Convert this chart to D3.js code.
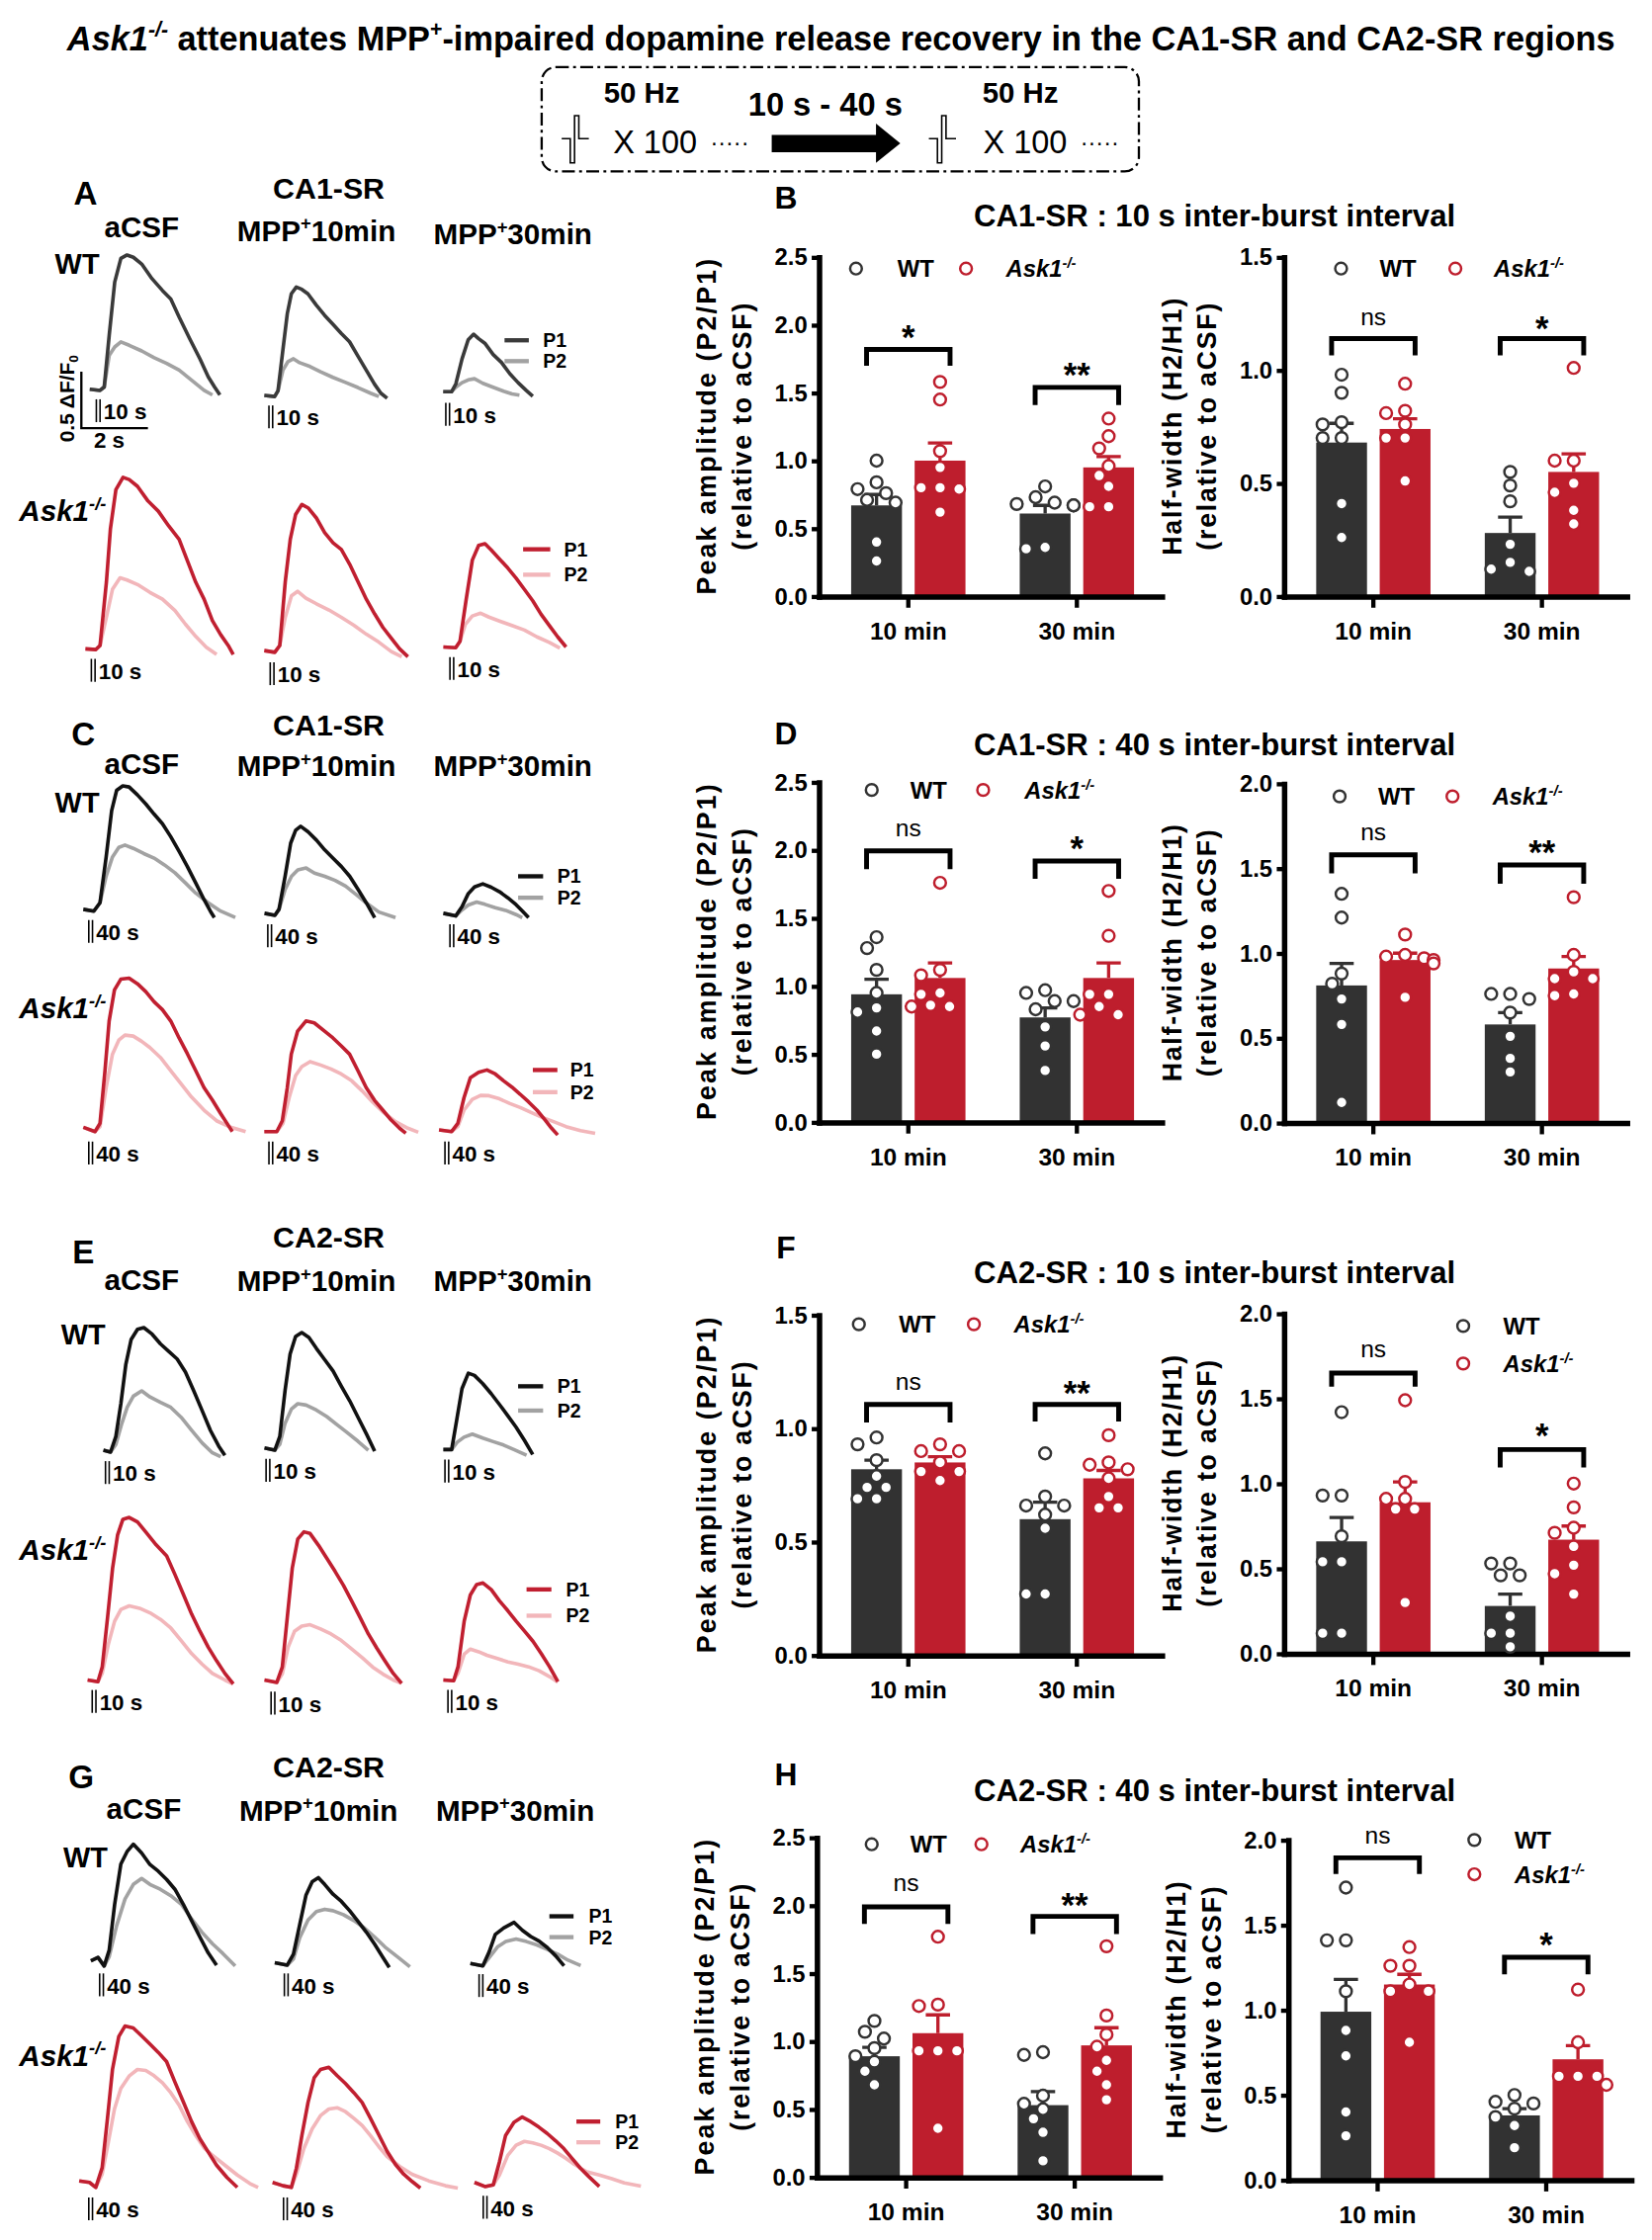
<!DOCTYPE html>
<html>
<head>
<meta charset="utf-8">
<title>Ask1 dopamine release recovery</title>
<script src="https://cdn.jsdelivr.net/npm/d3@7"></script>
<style>
  body { margin: 0; background: #fff; }
  text { font-family: "Liberation Sans", Arial, Helvetica, sans-serif; }
</style>
</head>
<body>
<div id="fig"></div>
<script>
// traces: [seconds from stimulus onset, dF/F0]  (P1 = first burst, P2 = second burst)
var A_wt_acsf_p1 = [[-0.31,0],[0,-0.01],[0.125,0.02],[0.275,0.48],[0.44,0.95],[0.625,1.16],[0.81,1.19],[1.0,1.17],[1.25,1.11],[1.56,0.98],[1.875,0.875],[2.125,0.80],[2.375,0.64],[2.69,0.45],[3.0,0.27],[3.25,0.11],[3.44,0.02],[3.6,-0.05]];
var A_wt_acsf_p2 = [[-0.31,0],[0,-0.01],[0.125,0.02],[0.275,0.30],[0.44,0.375],[0.625,0.42],[0.875,0.39],[1.25,0.34],[1.625,0.28],[2.0,0.23],[2.375,0.17],[2.75,0.08],[3.125,-0.01],[3.375,-0.05]];
var A_wt_10_p1 = [[-0.25,0],[0.06,-0.01],[0.16,0.04],[0.31,0.41],[0.44,0.725],[0.56,0.90],[0.71,0.96],[0.875,0.94],[1.06,0.90],[1.31,0.80],[1.56,0.71],[1.81,0.63],[2.06,0.55],[2.31,0.475],[2.56,0.35],[2.81,0.225],[3.06,0.10],[3.25,0.02],[3.44,-0.025]];
var A_wt_10_p2 = [[-0.25,0],[0.06,-0.01],[0.16,0.04],[0.31,0.225],[0.46,0.30],[0.625,0.325],[0.81,0.29],[1.125,0.256],[1.44,0.21],[1.81,0.16],[2.19,0.115],[2.56,0.07],[2.94,0.02],[3.19,-0.01]];
var A_wt_30_p1 = [[-0.19,0.01],[0.06,0.01],[0.19,0.08],[0.375,0.30],[0.56,0.47],[0.725,0.52],[0.875,0.48],[1.06,0.44],[1.31,0.34],[1.56,0.27],[1.81,0.17],[2.06,0.09],[2.31,0.02],[2.5,-0.03]];
var A_wt_30_p2 = [[-0.19,0.01],[0.06,0.01],[0.19,0.05],[0.375,0.09],[0.56,0.115],[0.75,0.125],[1.0,0.085],[1.31,0.05],[1.625,0.015],[1.875,-0.01],[2.1,-0.02]];
var A_ko_acsf_p1 = [[-0.29,0],[0.025,-0.006],[0.15,0.03],[0.34,0.59],[0.46,1.06],[0.625,1.41],[0.84,1.52],[1.025,1.50],[1.275,1.44],[1.59,1.31],[1.9,1.22],[2.21,1.09],[2.525,0.97],[2.775,0.78],[3.025,0.59],[3.275,0.44],[3.525,0.25],[3.775,0.125],[4.0,0.03],[4.15,-0.05]];
var A_ko_acsf_p2 = [[-0.29,0],[0.025,-0.006],[0.15,0.03],[0.34,0.28],[0.525,0.53],[0.75,0.63],[0.96,0.61],[1.275,0.57],[1.65,0.50],[2.025,0.44],[2.4,0.34],[2.71,0.22],[3.025,0.11],[3.34,0.015],[3.65,-0.05]];
var A_ko_10_p1 = [[-0.29,0.015],[0.025,0],[0.175,0.06],[0.34,0.625],[0.49,1.0],[0.65,1.22],[0.84,1.31],[1.025,1.28],[1.275,1.19],[1.525,1.06],[1.775,0.97],[2.025,0.91],[2.275,0.78],[2.525,0.625],[2.775,0.47],[3.025,0.34],[3.275,0.22],[3.525,0.125],[3.775,0.03],[4.025,-0.04]];
var A_ko_10_p2 = [[-0.29,0.015],[0.025,0],[0.175,0.06],[0.34,0.31],[0.525,0.5],[0.71,0.54],[0.96,0.48],[1.275,0.43],[1.65,0.375],[2.025,0.31],[2.4,0.24],[2.775,0.16],[3.15,0.09],[3.525,0.006],[3.84,-0.04]];
var A_ko_30_p1 = [[-0.31,0],[0.06,-0.006],[0.19,0.05],[0.375,0.42],[0.56,0.77],[0.75,0.90],[0.94,0.915],[1.125,0.86],[1.375,0.78],[1.625,0.70],[1.875,0.61],[2.125,0.51],[2.375,0.41],[2.625,0.29],[2.875,0.19],[3.125,0.09],[3.375,0]];
var A_ko_30_p2 = [[-0.31,0],[0.06,-0.006],[0.19,0.05],[0.35,0.20],[0.56,0.275],[0.81,0.30],[1.06,0.265],[1.375,0.23],[1.75,0.19],[2.125,0.15],[2.5,0.09],[2.875,0.04],[3.19,-0.01]];

var C_wt_acsf_p1 = [[-0.275,0.006],[0.04,-0.01],[0.225,0.064],[0.41,0.47],[0.575,0.88],[0.725,1.06],[0.91,1.10],[1.1,1.09],[1.35,1.02],[1.6,0.94],[1.85,0.85],[2.1,0.765],[2.35,0.65],[2.6,0.52],[2.85,0.385],[3.1,0.24],[3.35,0.093],[3.54,-0.01],[3.66,-0.067]];
var C_wt_acsf_p2 = [[-0.275,0.006],[0.04,-0.01],[0.225,0.064],[0.41,0.30],[0.6,0.47],[0.79,0.555],[0.975,0.575],[1.225,0.546],[1.54,0.50],[1.85,0.46],[2.16,0.40],[2.475,0.33],[2.79,0.24],[3.1,0.15],[3.475,0.064],[3.85,-0.01],[4.29,-0.067]];
var C_wt_10_p1 = [[-0.21,0.009],[0.1,-0.009],[0.225,0.044],[0.41,0.34],[0.575,0.63],[0.725,0.744],[0.875,0.78],[1.1,0.73],[1.35,0.657],[1.6,0.57],[1.85,0.496],[2.1,0.423],[2.35,0.336],[2.6,0.22],[2.85,0.10],[3.1,-0.03]];
var C_wt_10_p2 = [[-0.21,0.009],[0.1,-0.009],[0.225,0.044],[0.41,0.22],[0.6,0.336],[0.79,0.394],[1.04,0.41],[1.29,0.365],[1.6,0.336],[1.91,0.30],[2.225,0.25],[2.54,0.175],[2.85,0.10],[3.225,0.02],[3.725,-0.03]];
var C_wt_30_p1 = [[-0.31,0.009],[0.06,-0.015],[0.25,0.067],[0.44,0.184],[0.625,0.242],[0.875,0.27],[1.125,0.24],[1.375,0.20],[1.625,0.146],[1.875,0.085],[2.06,0.03],[2.25,-0.03]];
var C_wt_30_p2 = [[-0.31,0.009],[0.06,-0.015],[0.25,0.038],[0.44,0.082],[0.69,0.108],[0.94,0.088],[1.25,0.058],[1.56,0.035],[1.875,-0.003],[2.06,-0.03]];
var C_ko_acsf_p1 = [[-0.275,0.038],[0.075,0],[0.225,0.073],[0.375,0.54],[0.5,0.98],[0.66,1.255],[0.85,1.35],[1.1,1.36],[1.35,1.31],[1.6,1.24],[1.85,1.15],[2.1,1.08],[2.35,0.98],[2.6,0.83],[2.85,0.69],[3.1,0.54],[3.35,0.39],[3.6,0.28],[3.85,0.16],[4.04,0.073],[4.2,0]];
var C_ko_acsf_p2 = [[-0.275,0.038],[0.075,0],[0.225,0.044],[0.41,0.39],[0.6,0.686],[0.79,0.81],[0.975,0.855],[1.225,0.846],[1.475,0.80],[1.725,0.744],[2.04,0.657],[2.35,0.54],[2.66,0.423],[2.975,0.306],[3.35,0.19],[3.725,0.096],[4.1,0.044],[4.6,0]];
var C_ko_10_p1 = [[-0.25,0],[0.125,0],[0.29,0.096],[0.44,0.39],[0.56,0.686],[0.75,0.89],[1.0,0.98],[1.25,0.963],[1.56,0.89],[1.81,0.83],[2.06,0.76],[2.31,0.686],[2.56,0.54],[2.81,0.39],[3.06,0.277],[3.31,0.19],[3.56,0.102],[3.81,0.03],[4.0,-0.015]];
var C_ko_10_p2 = [[-0.25,0],[0.125,0],[0.31,0.073],[0.5,0.306],[0.69,0.496],[0.875,0.575],[1.125,0.62],[1.44,0.59],[1.75,0.555],[2.06,0.51],[2.375,0.45],[2.69,0.36],[3.0,0.263],[3.31,0.175],[3.69,0.088],[4.06,0.03],[4.375,-0.006]];
var C_ko_30_p1 = [[-0.29,0.015],[0.09,0],[0.275,0.073],[0.46,0.30],[0.65,0.476],[0.9,0.525],[1.15,0.546],[1.4,0.51],[1.65,0.45],[1.9,0.394],[2.15,0.33],[2.4,0.263],[2.65,0.19],[2.9,0.102],[3.09,0.03],[3.275,-0.03]];
var C_ko_30_p2 = [[-0.29,0.015],[0.09,0],[0.275,0.044],[0.46,0.19],[0.71,0.286],[0.96,0.32],[1.21,0.318],[1.525,0.29],[1.84,0.248],[2.15,0.213],[2.46,0.172],[2.775,0.13],[3.15,0.088],[3.525,0.044],[3.96,0.009],[4.4,-0.015]];

var E_wt_acsf_p1 = [[-0.175,0.009],[0.04,-0.009],[0.2,0.13],[0.35,0.42],[0.5,0.77],[0.66,0.99],[0.85,1.08],[1.04,1.095],[1.29,1.036],[1.54,0.95],[1.79,0.884],[2.04,0.817],[2.29,0.70],[2.54,0.534],[2.79,0.36],[3.04,0.184],[3.29,0.044],[3.475,-0.038]];
var E_wt_acsf_p2 = [[-0.175,0.009],[0.04,-0.009],[0.2,0.06],[0.375,0.242],[0.54,0.388],[0.725,0.487],[0.975,0.534],[1.225,0.48],[1.54,0.432],[1.85,0.388],[2.16,0.30],[2.475,0.184],[2.79,0.073],[3.1,-0.015],[3.35,-0.05]];
var E_wt_10_p1 = [[-0.16,0.009],[0.15,-0.012],[0.3,0.11],[0.46,0.52],[0.61,0.84],[0.775,0.995],[0.96,1.03],[1.175,0.987],[1.4,0.89],[1.65,0.79],[1.9,0.69],[2.15,0.555],[2.4,0.426],[2.65,0.28],[2.9,0.134],[3.15,-0.02]];
var E_wt_10_p2 = [[-0.16,0.009],[0.15,-0.012],[0.3,0.04],[0.46,0.228],[0.65,0.353],[0.84,0.40],[1.09,0.388],[1.4,0.344],[1.71,0.286],[2.025,0.213],[2.34,0.14],[2.65,0.067],[2.96,-0.012]];
var E_wt_30_p1 = [[-0.16,0],[0.09,0],[0.25,0.277],[0.4,0.54],[0.59,0.677],[0.775,0.657],[1.025,0.584],[1.275,0.496],[1.525,0.40],[1.775,0.30],[2.025,0.198],[2.275,0.082],[2.525,-0.044]];
var E_wt_30_p2 = [[-0.16,0],[0.09,0],[0.25,0.064],[0.46,0.11],[0.71,0.137],[1.025,0.102],[1.34,0.07],[1.65,0.04],[1.96,0],[2.34,-0.05]];
var E_ko_acsf_p1 = [[-0.25,0],[0.06,-0.015],[0.19,0.117],[0.35,0.555],[0.5,0.99],[0.65,1.284],[0.81,1.424],[1.0,1.44],[1.25,1.40],[1.5,1.31],[1.81,1.197],[2.125,1.10],[2.375,0.934],[2.625,0.76],[2.875,0.584],[3.125,0.432],[3.375,0.29],[3.625,0.17],[3.875,0.058],[4.125,-0.035]];
var E_ko_acsf_p2 = [[-0.25,0],[0.06,-0.015],[0.19,0.06],[0.375,0.32],[0.56,0.52],[0.75,0.625],[1.0,0.657],[1.31,0.636],[1.625,0.595],[1.94,0.537],[2.25,0.46],[2.56,0.35],[2.875,0.234],[3.19,0.14],[3.5,0.058],[3.875,0],[4.125,-0.035]];
var E_ko_10_p1 = [[-0.31,0.015],[0.06,-0.006],[0.225,0.13],[0.375,0.57],[0.525,1.007],[0.69,1.264],[0.875,1.328],[1.06,1.313],[1.31,1.21],[1.56,1.095],[1.81,0.978],[2.06,0.855],[2.31,0.715],[2.56,0.57],[2.81,0.423],[3.06,0.30],[3.31,0.184],[3.56,0.073],[3.81,-0.015]];
var E_ko_10_p2 = [[-0.31,0.015],[0.06,-0.006],[0.225,0.07],[0.4,0.306],[0.59,0.446],[0.81,0.493],[1.06,0.505],[1.375,0.467],[1.69,0.423],[2.0,0.365],[2.31,0.29],[2.625,0.213],[2.94,0.13],[3.25,0.067],[3.56,0.015],[3.81,-0.015]];
var E_ko_30_p1 = [[-0.25,0],[0.06,-0.006],[0.19,0.117],[0.375,0.52],[0.56,0.753],[0.75,0.846],[0.94,0.86],[1.19,0.80],[1.44,0.70],[1.69,0.613],[1.94,0.52],[2.19,0.432],[2.44,0.344],[2.69,0.234],[2.94,0.117],[3.19,-0.015]];
var E_ko_30_p2 = [[-0.25,0],[0.06,-0.006],[0.19,0.06],[0.375,0.228],[0.56,0.274],[0.81,0.25],[1.06,0.219],[1.375,0.19],[1.69,0.16],[2.0,0.14],[2.31,0.117],[2.625,0.082],[2.94,0.03],[3.19,-0.02]];

var G_wt_acsf_p1 = [[-0.375,0.023],[-0.16,0.053],[0.025,-0.023],[0.175,0.117],[0.34,0.525],[0.525,0.88],[0.71,0.99],[0.9,1.057],[1.15,0.978],[1.4,0.876],[1.65,0.817],[1.9,0.744],[2.15,0.657],[2.4,0.525],[2.65,0.38],[2.9,0.234],[3.15,0.093],[3.4,-0.015]];
var G_wt_acsf_p2 = [[-0.375,0.023],[-0.16,0.053],[0.025,-0.023],[0.175,0.06],[0.4,0.336],[0.65,0.57],[0.9,0.70],[1.15,0.753],[1.4,0.70],[1.71,0.657],[2.025,0.60],[2.34,0.525],[2.65,0.394],[2.96,0.277],[3.275,0.175],[3.59,0.088],[3.96,-0.023]];
var G_wt_10_p1 = [[-0.4,0.006],[-0.025,-0.015],[0.16,0.082],[0.35,0.344],[0.54,0.607],[0.725,0.724],[0.91,0.76],[1.1,0.70],[1.35,0.613],[1.6,0.55],[1.85,0.467],[2.1,0.374],[2.35,0.277],[2.6,0.17],[2.85,0.053],[3.04,-0.035]];
var G_wt_10_p2 = [[-0.4,0.006],[-0.025,-0.015],[0.16,0.04],[0.35,0.228],[0.6,0.385],[0.85,0.46],[1.1,0.48],[1.35,0.467],[1.66,0.432],[1.975,0.38],[2.29,0.315],[2.6,0.234],[2.91,0.146],[3.29,0.058],[3.66,-0.03]];
var G_wt_30_p1 = [[-0.375,0.006],[0,-0.015],[0.19,0.108],[0.375,0.263],[0.625,0.32],[0.94,0.37],[1.19,0.30],[1.44,0.245],[1.69,0.204],[1.94,0.146],[2.19,0.073],[2.44,-0.015]];
var G_wt_30_p2 = [[-0.375,0.006],[0,-0.015],[0.19,0.058],[0.44,0.152],[0.69,0.2],[1.0,0.222],[1.31,0.2],[1.625,0.17],[1.94,0.13],[2.25,0.088],[2.56,0.035],[2.94,-0.012]];
var G_ko_acsf_p1 = [[-0.4,0.058],[-0.09,0.044],[0.1,0],[0.29,0.175],[0.45,0.613],[0.6,1.045],[0.79,1.337],[0.975,1.43],[1.225,1.413],[1.475,1.343],[1.725,1.27],[1.975,1.197],[2.225,1.115],[2.475,0.934],[2.725,0.76],[2.975,0.584],[3.225,0.432],[3.475,0.315],[3.725,0.198],[4.04,0.088],[4.35,0]];
var G_ko_acsf_p2 = [[-0.4,0.058],[-0.09,0.044],[0.1,0],[0.29,0.117],[0.475,0.40],[0.66,0.695],[0.85,0.876],[1.1,0.987],[1.35,1.045],[1.6,1.036],[1.85,0.99],[2.1,0.928],[2.35,0.84],[2.6,0.73],[2.85,0.584],[3.1,0.46],[3.35,0.35],[3.6,0.286],[3.975,0.198],[4.35,0.11],[4.725,0.035],[4.975,0]];
var G_ko_10_p1 = [[-0.44,0.044],[-0.125,0.015],[0.125,0],[0.275,0.17],[0.44,0.46],[0.625,0.753],[0.81,0.972],[1.0,1.045],[1.25,1.065],[1.5,0.99],[1.75,0.92],[2.0,0.84],[2.25,0.753],[2.5,0.613],[2.75,0.467],[3.0,0.32],[3.25,0.204],[3.5,0.117],[3.75,0.053],[4.0,-0.006]];
var G_ko_10_p2 = [[-0.44,0.044],[-0.125,0.015],[0.125,0],[0.275,0.117],[0.5,0.344],[0.75,0.52],[1.0,0.636],[1.25,0.695],[1.5,0.706],[1.75,0.671],[2.0,0.613],[2.25,0.55],[2.5,0.46],[2.75,0.362],[3.0,0.274],[3.375,0.187],[3.75,0.117],[4.25,0.058],[4.75,0.015],[5.125,-0.006]];
var G_ko_30_p1 = [[-0.375,0.03],[-0.06,-0.006],[0.19,0.009],[0.375,0.213],[0.56,0.447],[0.81,0.563],[1.06,0.61],[1.31,0.57],[1.56,0.52],[1.81,0.464],[2.06,0.40],[2.31,0.33],[2.56,0.242],[2.81,0.155],[3.06,0.082],[3.375,-0.006]];
var G_ko_30_p2 = [[-0.375,0.03],[-0.06,-0.006],[0.19,0.009],[0.375,0.096],[0.625,0.27],[0.875,0.36],[1.125,0.394],[1.375,0.38],[1.625,0.36],[1.875,0.33],[2.125,0.29],[2.375,0.242],[2.625,0.19],[3.0,0.125],[3.375,0.096],[3.75,0.064],[4.125,0.026],[4.625,-0.003]];

// bar charts: individual slices, order of means/sems = [WT 10, Ask1 10, WT 30, Ask1 30]
var groups = ["10 min", "30 min"];
var genos = ["WT", "Ask1"];
var ticks15 = [0, 0.5, 1, 1.5];
var ticks20 = [0, 0.5, 1, 1.5, 2];
var ticks25 = [0, 0.5, 1, 1.5, 2, 2.5];

var B_peak_wt10 = [1.0, 0.84, 0.79, 0.76, 0.71, 0.69, 0.40, 0.26];
var B_peak_ko10 = [1.58, 1.45, 1.07, 0.95, 0.80, 0.80, 0.79, 0.62];
var B_peak_wt30 = [0.81, 0.73, 0.69, 0.68, 0.67, 0.67, 0.36, 0.35];
var B_peak_ko30 = [1.31, 1.18, 1.09, 0.96, 0.89, 0.81, 0.66, 0.66];
var B_peak_mean = [0.67, 1.0, 0.61, 0.95];
var B_peak_sem = [0.08, 0.13, 0.06, 0.08];
var B_half_wt10 = [0.98, 0.90, 0.77, 0.76, 0.70, 0.70, 0.41, 0.26];
var B_half_ko10 = [0.94, 0.82, 0.81, 0.76, 0.70, 0.70, 0.51];
var B_half_wt30 = [0.55, 0.49, 0.42, 0.23, 0.15, 0.12, 0.11];
var B_half_ko30 = [1.01, 0.60, 0.60, 0.50, 0.46, 0.38, 0.32];
var B_half_mean = [0.68, 0.74, 0.28, 0.55];
var B_half_sem = [0.085, 0.045, 0.07, 0.08];

var D_peak_wt10 = [1.36, 1.28, 1.12, 0.95, 0.84, 0.81, 0.67, 0.50];
var D_peak_ko10 = [1.76, 1.12, 1.08, 0.95, 0.94, 0.86, 0.85, 0.85];
var D_peak_wt30 = [0.97, 0.95, 0.89, 0.89, 0.83, 0.70, 0.56, 0.38];
var D_peak_ko30 = [1.70, 1.37, 0.94, 0.94, 0.85, 0.79, 0.79];
var D_peak_mean = [0.94, 1.06, 0.77, 1.06];
var D_peak_sem = [0.11, 0.11, 0.07, 0.11];
var D_half_wt10 = [1.35, 1.21, 0.88, 0.82, 0.73, 0.58, 0.12];
var D_half_ko10 = [1.11, 0.99, 0.98, 0.97, 0.96, 0.94, 0.74];
var D_half_wt30 = [0.76, 0.76, 0.73, 0.65, 0.51, 0.38, 0.30];
var D_half_ko30 = [1.33, 0.99, 0.89, 0.85, 0.85, 0.76, 0.75];
var D_half_mean = [0.81, 0.96, 0.58, 0.91];
var D_half_sem = [0.13, 0.04, 0.07, 0.07];

var F_peak_wt10 = [0.96, 0.93, 0.86, 0.79, 0.74, 0.74, 0.69, 0.69];
var F_peak_ko10 = [0.93, 0.90, 0.90, 0.85, 0.81, 0.81, 0.77];
var F_peak_wt30 = [0.89, 0.70, 0.66, 0.66, 0.62, 0.56, 0.27, 0.27];
var F_peak_ko30 = [0.97, 0.85, 0.84, 0.82, 0.78, 0.70, 0.65, 0.65];
var F_peak_mean = [0.82, 0.85, 0.60, 0.78];
var F_peak_sem = [0.04, 0.025, 0.075, 0.035];
var F_half_wt10 = [1.42, 0.93, 0.93, 0.69, 0.54, 0.54, 0.12, 0.12];
var F_half_ko10 = [1.49, 1.01, 0.91, 0.91, 0.85, 0.85, 0.30];
var F_half_wt30 = [0.53, 0.53, 0.46, 0.46, 0.22, 0.12, 0.12, 0.04];
var F_half_ko30 = [1.00, 0.86, 0.74, 0.71, 0.63, 0.52, 0.47, 0.35];
var F_half_mean = [0.66, 0.89, 0.28, 0.67];
var F_half_sem = [0.14, 0.12, 0.07, 0.08];

var H_peak_wt10 = [1.15, 1.07, 1.02, 0.95, 0.89, 0.85, 0.78, 0.68];
var H_peak_ko10 = [1.77, 1.27, 1.26, 0.93, 0.93, 0.93, 0.36];
var H_peak_wt30 = [0.92, 0.90, 0.60, 0.54, 0.50, 0.43, 0.33, 0.12];
var H_peak_ko30 = [1.70, 1.19, 1.05, 0.96, 0.86, 0.78, 0.68, 0.57];
var H_peak_mean = [0.89, 1.06, 0.53, 0.97];
var H_peak_sem = [0.065, 0.135, 0.10, 0.13];
var H_half_wt10 = [1.72, 1.41, 1.41, 1.11, 0.88, 0.73, 0.40, 0.26];
var H_half_ko10 = [1.37, 1.26, 1.26, 1.15, 1.11, 1.11, 0.81];
var H_half_wt30 = [0.50, 0.46, 0.45, 0.42, 0.37, 0.32, 0.19];
var H_half_ko30 = [1.12, 0.81, 0.61, 0.61, 0.61, 0.56];
var H_half_mean = [0.99, 1.15, 0.38, 0.71];
var H_half_sem = [0.19, 0.06, 0.04, 0.08];

// significance: [bracket level, leg end, label, label centre] per time point
var B_peak_sig = [[1.82, 1.70, "*", 1.97], [1.54, 1.41, "**", 1.69]];
var B_half_sig = [[1.14, 1.066, "ns", 1.23], [1.14, 1.066, "*", 1.22]];
var D_peak_sig = [[1.995, 1.86, "ns", 2.15], [1.92, 1.79, "*", 2.07]];
var D_half_sig = [[1.58, 1.47, "ns", 1.705], [1.52, 1.41, "**", 1.64]];
var F_peak_sig = [[1.106, 1.026, "ns", 1.20], [1.106, 1.03, "**", 1.19]];
var F_half_sig = [[1.65, 1.57, "ns", 1.78], [1.20, 1.095, "*", 1.33]];
var H_peak_sig = [[1.99, 1.865, "ns", 2.155], [1.92, 1.79, "**", 2.06]];
var H_half_sig = [[1.895, 1.80, "ns", 2.02], [1.31, 1.21, "*", 1.43]];

var WT_BAR = "#323232", KO_BAR = "#be1e2d";
var WT_P2 = "#a2a2a2", KO_P1 = "#c01f30", KO_P2 = "#f2b6ba";
var SEC = 23.3, UNIT = 79;   // px per second, px per 1.0 dF/F0

function rich(g, x, y, parts, size, opts) {
    opts = opts || {};
    var t = g.append("text")
        .attr("x", x).attr("y", y)
        .attr("font-size", size)
        .attr("font-weight", opts.weight || "bold")
        .attr("text-anchor", opts.anchor || "middle")
        .attr("fill", "#000");
    if (opts.transform) t.attr("transform", opts.transform);
    parts.forEach(function(p) {
        var s = t.append("tspan").text(p.t);
        if (p.i) s.attr("font-style", "italic");
        if (p.sup) s.attr("font-size", "0.62em").attr("dy", "-0.62em");
        if (p.sub) s.attr("font-size", "0.65em").attr("dy", "0.3em");
        if (p.back) s.attr("dy", p.back);
    });
    return t;
}

function fitWidth(t, w) {
    var len = t.node().getComputedTextLength();
    var fs = parseFloat(t.attr("font-size"));
    t.attr("font-size", fs * w / len);
}

var askParts = [{t: "Ask1", i: true}, {t: "-/-", i: true, sup: true}];

function init() {
    var svg = d3.select("#fig").append("svg")
        .attr("width", 1671).attr("height", 2266)
        .attr("viewBox", "0 0 1156 1568");
    svg.append("rect").attr("width", 1156).attr("height", 1568).attr("fill", "#fff");

    // title
    var title = rich(svg, 588.5, 35, [
        {t: "Ask1", i: true}, {t: "-/-", i: true, sup: true},
        {t: " attenuates MPP", back: "0.384em"}, {t: "+", sup: true},
        {t: "-impaired dopamine release recovery in the CA1-SR and CA2-SR regions", back: "0.384em"}
    ], 21);
    fitWidth(title, 1083);

    // protocol box
    var hd = svg.append("g");
    hd.append("rect").attr("x", 379).attr("y", 47).attr("width", 418).attr("height", 73).attr("rx", 10)
        .attr("fill", "none").attr("stroke", "#000").attr("stroke-width", 1.6).attr("stroke-dasharray", "9,3,2,3");
    [449, 714].forEach(function(x) {
        var t = hd.append("text").attr("x", x).attr("y", 72).attr("text-anchor", "middle")
            .attr("font-size", 18).attr("font-weight", "bold").text("50 Hz");
        fitWidth(t, 53);
    });
    var gapT = hd.append("text").attr("x", 577.5).attr("y", 81).attr("text-anchor", "middle")
        .attr("font-size", 20).attr("font-weight", "bold").text("10 s - 40 s");
    fitWidth(gapT, 108);
    [[393, 429], [650, 688]].forEach(function(p) {
        var x = p[0];
        hd.append("path")
            .attr("d", "M" + x + ",97 H" + (x + 6) + " V114 H" + (x + 9) + " V81 H" + (x + 12) + " V97 H" + (x + 19))
            .attr("fill", "none").attr("stroke", "#000").attr("stroke-width", 1.1);
        var t = hd.append("text").attr("x", p[1]).attr("y", 107).attr("font-size", 22).text("X 100");
        fitWidth(t, 58.7);
        var d = hd.append("text").attr("x", p[1] + 68).attr("y", 105).attr("font-size", 18).text("\u00b7\u00b7\u00b7\u00b7\u00b7");
        fitWidth(d, 27);
    });
    hd.append("path").attr("d", "M540,94.5 H613 V86.5 L630,100.3 L613,114 V106.5 H540 Z").attr("fill", "#000");

    // ---- trace panels ----
    var tracePanels = [
        {letter: "A", region: "CA1-SR", gap: "10 s", wtColor: "#3a3a3a",
         wt: [[A_wt_acsf_p1, A_wt_acsf_p2], [A_wt_10_p1, A_wt_10_p2], [A_wt_30_p1, A_wt_30_p2]],
         ko: [[A_ko_acsf_p1, A_ko_acsf_p2], [A_ko_10_p1, A_ko_10_p2], [A_ko_30_p1, A_ko_30_p2]],
         wtCells: [[69.9, 272.5], [190.7, 276.8], [314.5, 275]],
         koCells: [[66.4, 454.2], [191.6, 456.6], [317.4, 452.9]],
         L: [59.7, 143], R: [230, 139], cols: [[99, 166], [221.3, 168.7], [358.8, 171]],
         wtLab: [53.9, 192], koLab: [43.7, 365],
         legWT: [353, 370, 238.2, 252.8, 380], legKO: [366, 385, 384.5, 402.3, 394.6]},
        {letter: "C", region: "CA1-SR", gap: "40 s", wtColor: "#111",
         wt: [[C_wt_acsf_p1, C_wt_acsf_p2], [C_wt_10_p1, C_wt_10_p2], [C_wt_30_p1, C_wt_30_p2]],
         ko: [[C_ko_acsf_p1, C_ko_acsf_p2], [C_ko_10_p1, C_ko_10_p2], [C_ko_30_p1, C_ko_30_p2]],
         wtCells: [[64.6, 637], [189.9, 640], [317.4, 640]],
         koCells: [[64.6, 792.1], [190.7, 792.1], [313.9, 792.1]],
         L: [58.2, 522], R: [230, 515], cols: [[99, 542], [221.3, 543.5], [358.8, 543.5]],
         wtLab: [53.9, 569], koLab: [43.7, 713],
         legWT: [362.5, 380, 613.4, 628.4, 390], legKO: [372.8, 390, 749, 764.5, 399]},
        {letter: "E", region: "CA2-SR", gap: "10 s", wtColor: "#111",
         wt: [[E_wt_acsf_p1, E_wt_acsf_p2], [E_wt_10_p1, E_wt_10_p2], [E_wt_30_p1, E_wt_30_p2]],
         ko: [[E_ko_acsf_p1, E_ko_acsf_p2], [E_ko_10_p1, E_ko_10_p2], [E_ko_30_p1, E_ko_30_p2]],
         wtCells: [[76.3, 1015.8], [188.7, 1014.2], [313.9, 1014.7]],
         koCells: [[67, 1176], [192.2, 1177.2], [316, 1176]],
         L: [58.2, 884], R: [230, 873], cols: [[99, 903], [221.3, 904], [358.8, 904]],
         wtLab: [58.2, 941], koLab: [43.7, 1092],
         legWT: [362.5, 380, 970.4, 987.4, 390], legKO: [368.4, 385.8, 1112.6, 1131, 396]},
        {letter: "G", region: "CA2-SR", gap: "40 s", wtColor: "#111",
         wt: [[G_wt_acsf_p1, G_wt_acsf_p2], [G_wt_10_p1, G_wt_10_p2], [G_wt_30_p1, G_wt_30_p2]],
         ko: [[G_ko_acsf_p1, G_ko_acsf_p2], [G_ko_10_p1, G_ko_10_p2], [G_ko_30_p1, G_ko_30_p2]],
         wtCells: [[72.2, 1374.4], [201.5, 1374.4], [337.8, 1374.9]],
         koCells: [[64.6, 1531.2], [200.9, 1531.2], [340.7, 1530.1]],
         L: [56.8, 1252], R: [230, 1244], cols: [[100.5, 1273], [222.8, 1274.5], [360.5, 1274.5]],
         wtLab: [59.7, 1307], koLab: [43.7, 1446],
         legWT: [384.4, 401.3, 1341.4, 1356, 412], legKO: [403.3, 420, 1485.1, 1499.6, 430.4]}
    ];

    tracePanels.forEach(function(p) {
        var g = svg.append("g");
        g.append("text").attr("x", p.L[0]).attr("y", p.L[1]).attr("text-anchor", "middle")
            .attr("font-size", 23).attr("font-weight", "bold").text(p.letter);
        g.append("text").attr("x", p.R[0]).attr("y", p.R[1]).attr("text-anchor", "middle")
            .attr("font-size", 21).attr("font-weight", "bold").text(p.region);
        g.append("text").attr("x", p.cols[0][0]).attr("y", p.cols[0][1]).attr("text-anchor", "middle")
            .attr("font-size", 20.5).attr("font-weight", "bold").text("aCSF");
        rich(g, p.cols[1][0], p.cols[1][1], [{t: "MPP"}, {t: "+", sup: true}, {t: "10min", back: "0.384em"}], 20.5);
        rich(g, p.cols[2][0], p.cols[2][1], [{t: "MPP"}, {t: "+", sup: true}, {t: "30min", back: "0.384em"}], 20.5);
        g.append("text").attr("x", p.wtLab[0]).attr("y", p.wtLab[1]).attr("text-anchor", "middle")
            .attr("font-size", 20).attr("font-weight", "bold").text("WT");
        rich(g, p.koLab[0], p.koLab[1], askParts, 20.5);

        p.wt.forEach(function(pair, i) { traceCell(g, p.wtCells[i], pair, p.wtColor, WT_P2, p.gap); });
        p.ko.forEach(function(pair, i) { traceCell(g, p.koCells[i], pair, KO_P1, KO_P2, p.gap); });

        pulseLegend(g, p.legWT, p.wtColor, WT_P2);
        pulseLegend(g, p.legKO, KO_P1, KO_P2);
    });

    // scale bar (panel A)
    var sx = d3.scaleLinear().domain([0, 1]).range([56.8, 56.8 + SEC]);
    var sy = d3.scaleLinear().domain([0, 1]).range([299.7, 299.7 - UNIT]);
    svg.append("path")
        .attr("d", "M" + sx(0) + "," + sy(0.5) + "V" + sy(0) + "H" + sx(2))
        .attr("fill", "none").attr("stroke", "#000").attr("stroke-width", 1.6);
    rich(svg, 0, 0, [{t: "0.5 \u0394F/F"}, {t: "0", sub: true}], 14.5,
        {transform: "translate(51.5,279) rotate(-90)"});
    svg.append("text").attr("x", 76.3).attr("y", 313.5).attr("text-anchor", "middle")
        .attr("font-size", 15.5).attr("font-weight", "bold").text("2 s");

    function traceCell(g, cell, pair, c1, c2, gap) {
        var x = d3.scaleLinear().domain([0, 1]).range([cell[0], cell[0] + SEC]);
        var y = d3.scaleLinear().domain([0, 1]).range([cell[1], cell[1] - UNIT]);
        var line = d3.line().x(function(d) { return x(d[0]); }).y(function(d) { return y(d[1]); });
        g.append("path").attr("d", line(pair[1])).attr("fill", "none").attr("stroke", c2)
            .attr("stroke-width", 2.5).attr("stroke-linejoin", "round");
        g.append("path").attr("d", line(pair[0])).attr("fill", "none").attr("stroke", c1)
            .attr("stroke-width", 2.5).attr("stroke-linejoin", "round");
        [-2.6, 0].forEach(function(o) {
            g.append("line").attr("x1", x(0) + o).attr("x2", x(0) + o)
                .attr("y1", y(0) + 7).attr("y2", y(0) + 23)
                .attr("stroke", "#000").attr("stroke-width", 1.1);
        });
        g.append("text").attr("x", x(0) + 2.5).attr("y", y(0) + 21)
            .attr("font-size", 15.5).attr("font-weight", "bold").text(gap);
    }

    function pulseLegend(g, L, c1, c2) {
        [[L[2], c1, "P1"], [L[3], c2, "P2"]].forEach(function(r) {
            g.append("line").attr("x1", L[0]).attr("x2", L[1]).attr("y1", r[0]).attr("y2", r[0])
                .attr("stroke", r[1]).attr("stroke-width", 3);
            g.append("text").attr("x", L[4]).attr("y", r[0] + 4.8)
                .attr("font-size", 13.5).attr("font-weight", "bold").text(r[2]);
        });
    }

    // ---- bar chart rows ----
    var rows = [
        {letter: "B", ly: 146, title: "CA1-SR : 10 s inter-burst interval", ty: 158.5},
        {letter: "D", ly: 521, title: "CA1-SR : 40 s inter-burst interval", ty: 528.5},
        {letter: "F", ly: 881, title: "CA2-SR : 10 s inter-burst interval", ty: 898.5},
        {letter: "H", ly: 1250, title: "CA2-SR : 40 s inter-burst interval", ty: 1261}
    ];
    rows.forEach(function(r) {
        svg.append("text").attr("x", 550).attr("y", r.ly).attr("text-anchor", "middle")
            .attr("font-size", 22).attr("font-weight", "bold").text(r.letter);
        var t = svg.append("text").attr("x", 850).attr("y", r.ty).attr("text-anchor", "middle")
            .attr("font-size", 20).attr("font-weight", "bold").text(r.title);
        fitWidth(t, 337);
    });

    var peakLab = ["Peak amplitude (P2/P1)", "(relative to aCSF)"];
    var halfLab = ["Half-width (H2/H1)", "(relative to aCSF)"];
    var charts = [
        {axisX: 573, top: 180, bottom: 417.4, max: 2.5, ticks: ticks25, lab: peakLab, labW: [235, 173],
         vals: [B_peak_wt10, B_peak_ko10, B_peak_wt30, B_peak_ko30], means: B_peak_mean, sems: B_peak_sem, sig: B_peak_sig,
         leg: {h: true, dy: 8, c: [26, 103], t: [55, 131]}},
        {axisX: 898.5, top: 180, bottom: 417.4, max: 1.5, ticks: ticks15, lab: halfLab, labW: [180, 173],
         vals: [B_half_wt10, B_half_ko10, B_half_wt30, B_half_ko30], means: B_half_mean, sems: B_half_sem, sig: B_half_sig,
         leg: {h: true, dy: 8, c: [40, 120], t: [67, 147]}},
        {axisX: 573, top: 547.5, bottom: 785.5, max: 2.5, ticks: ticks25, lab: peakLab, labW: [235, 173],
         vals: [D_peak_wt10, D_peak_ko10, D_peak_wt30, D_peak_ko30], means: D_peak_mean, sems: D_peak_sem, sig: D_peak_sig,
         leg: {h: true, dy: 5.5, c: [37, 115], t: [64, 144]}},
        {axisX: 898.5, top: 548.5, bottom: 786, max: 2.0, ticks: ticks20, lab: halfLab, labW: [180, 173],
         vals: [D_half_wt10, D_half_ko10, D_half_wt30, D_half_ko30], means: D_half_mean, sems: D_half_sem, sig: D_half_sig,
         leg: {h: true, dy: 9, c: [39, 118], t: [66, 146]}},
        {axisX: 573, top: 920.5, bottom: 1158.7, max: 1.5, ticks: ticks15, lab: peakLab, labW: [235, 173],
         vals: [F_peak_wt10, F_peak_ko10, F_peak_wt30, F_peak_ko30], means: F_peak_mean, sems: F_peak_sem, sig: F_peak_sig,
         leg: {h: true, dy: 6.5, c: [28, 108.5], t: [56, 136.5]}},
        {axisX: 898.5, top: 919.5, bottom: 1157.5, max: 2.0, ticks: ticks20, lab: halfLab, labW: [180, 173],
         vals: [F_half_wt10, F_half_ko10, F_half_wt30, F_half_ko30], means: F_half_mean, sems: F_half_sem, sig: F_half_sig,
         leg: {h: false, dy: [8.7, 35], c: 125.5, t: 153.5}},
        {axisX: 571.5, top: 1286.3, bottom: 1524, max: 2.5, ticks: ticks25, lab: peakLab, labW: [235, 173],
         vals: [H_peak_wt10, H_peak_ko10, H_peak_wt30, H_peak_ko30], means: H_peak_mean, sems: H_peak_sem, sig: H_peak_sig,
         leg: {h: true, dy: 4.7, c: [38.5, 115.3], t: [65.5, 142.5]}},
        {axisX: 901.5, top: 1288, bottom: 1526, max: 2.0, ticks: ticks20, lab: halfLab, labW: [180, 173],
         vals: [H_half_wt10, H_half_ko10, H_half_wt30, H_half_ko30], means: H_half_mean, sems: H_half_sem, sig: H_half_sig,
         leg: {h: false, dy: [0, 24], c: 130.3, t: 158.5}}
    ];
    charts.forEach(function(cfg) { barChart(svg, cfg); });
}

function swarm(vals, y) {
    var order = vals.map(function(v, i) { return i; }).sort(function(a, b) { return vals[b] - vals[a]; });
    var placed = [], off = [];
    var cands = [0, -6.65, 6.65, -13.3, 13.3, -19.9, 19.9];
    order.forEach(function(i) {
        var py = y(vals[i]);
        var best = cands[cands.length - 1];
        for (var k = 0; k < cands.length; k++) {
            var c = cands[k];
            var ok = placed.every(function(p) { return Math.hypot(p.x - c, p.y - py) >= 9.3; });
            if (ok) { best = c; break; }
        }
        placed.push({x: best, y: py});
        off[i] = best;
    });
    return off;
}

function barChart(svg, cfg) {
    var g = svg.append("g");
    var y = d3.scaleLinear().domain([0, cfg.max]).range([cfg.bottom, cfg.top]);
    var x0 = d3.scaleBand().domain(groups).range([cfg.axisX, cfg.axisX + 240])
        .paddingOuter(0.017).align(0.9);
    var x1 = d3.scaleBand().domain(genos).range([19, 99]).paddingInner(0.2);
    function cx(gi, k) { return x0(groups[gi]) + x1(genos[k]) + x1.bandwidth() / 2; }

    var sets = [];
    groups.forEach(function(gr, gi) {
        genos.forEach(function(ge, k) {
            var j = gi * 2 + k;
            sets.push({gi: gi, k: k, vals: cfg.vals[j], mean: cfg.means[j], sem: cfg.sems[j],
                       color: k ? KO_BAR : WT_BAR});
        });
    });

    g.selectAll("rect.bar").data(sets).enter().append("rect")
        .attr("class", "bar")
        .attr("x", function(d) { return x0(groups[d.gi]) + x1(genos[d.k]); })
        .attr("width", x1.bandwidth())
        .attr("y", function(d) { return y(d.mean); })
        .attr("height", function(d) { return y(0) - y(d.mean); })
        .attr("fill", function(d) { return d.color; });

    sets.forEach(function(d) {
        var c = cx(d.gi, d.k), top = y(d.mean + d.sem);
        g.append("path").attr("d", "M" + c + "," + y(d.mean) + "V" + top + "M" + (c - 8.5) + "," + top + "H" + (c + 8.5))
            .attr("stroke", d.color).attr("stroke-width", 2.3).attr("fill", "none");
    });

    var ya = g.append("g").attr("transform", "translate(" + cfg.axisX + ",0)")
        .call(d3.axisLeft(y).tickValues(cfg.ticks).tickFormat(d3.format(".1f"))
              .tickSize(5).tickPadding(3).tickSizeOuter(0));
    var xa = g.append("g").attr("transform", "translate(0," + cfg.bottom + ")")
        .call(d3.axisBottom(x0).tickSize(8).tickPadding(10).tickSizeOuter(0));
    [ya, xa].forEach(function(a) {
        a.select(".domain").attr("stroke-width", 3.8).attr("stroke-linecap", "square");
        a.selectAll(".tick line").attr("stroke-width", 3);
        a.selectAll("text").attr("font-family", null).attr("font-weight", "bold").attr("fill", "#000");
    });
    ya.selectAll("text").attr("font-size", 16.5);
    xa.selectAll("text").attr("font-size", 17);

    // dots
    sets.forEach(function(d) {
        var off = swarm(d.vals, y), c = cx(d.gi, d.k);
        g.selectAll(null).data(d.vals).enter().append("circle")
            .attr("cx", function(v, i) { return c + off[i]; })
            .attr("cy", function(v) { return y(v); })
            .attr("r", 4.1)
            .attr("fill", "#fff")
            .attr("stroke", d.k ? KO_BAR : "#333")
            .attr("stroke-width", 1.7);
    });

    // significance brackets
    cfg.sig.forEach(function(s, gi) {
        var a = cx(gi, 0) - 7, b = cx(gi, 1) + 7, yl = y(s[1]), yb = y(s[0]);
        g.append("path").attr("d", "M" + a + "," + yl + "V" + yb + "H" + b + "V" + yl)
            .attr("fill", "none").attr("stroke", "#000").attr("stroke-width", 3.4);
        var ns = s[2] === "ns";
        g.append("text").attr("x", (a + b) / 2).attr("y", y(s[3]) + (ns ? 4.6 : 13.7))
            .attr("text-anchor", "middle")
            .attr("font-size", ns ? 17 : 24).attr("font-weight", ns ? "normal" : "bold")
            .text(s[2]);
    });

    // legend
    var L = cfg.leg, items;
    if (L.h) {
        items = [[cfg.axisX + L.c[0], cfg.axisX + L.t[0], cfg.top + L.dy],
                 [cfg.axisX + L.c[1], cfg.axisX + L.t[1], cfg.top + L.dy]];
    } else {
        items = [[cfg.axisX + L.c, cfg.axisX + L.t, cfg.top + L.dy[0]],
                 [cfg.axisX + L.c, cfg.axisX + L.t, cfg.top + L.dy[1]]];
    }
    items.forEach(function(it, k) {
        g.append("circle").attr("cx", it[0]).attr("cy", it[2]).attr("r", 4.1)
            .attr("fill", "#fff").attr("stroke", k ? KO_BAR : "#333").attr("stroke-width", 1.7);
        if (k === 0) {
            g.append("text").attr("x", it[1]).attr("y", it[2] + 6).attr("font-size", 16.5)
                .attr("font-weight", "bold").text("WT");
        } else {
            rich(g, it[1], it[2] + 6, askParts, 16.5, {anchor: "start"});
        }
    });

    // y label
    var cy = (cfg.top + cfg.bottom) / 2;
    [-78.5, -54].forEach(function(dx, i) {
        g.append("text")
            .attr("transform", "translate(" + (cfg.axisX + dx) + "," + cy + ") rotate(-90)")
            .attr("text-anchor", "middle").attr("dy", "0.36em")
            .attr("font-size", 18.5).attr("font-weight", "bold")
            .attr("textLength", cfg.labW[i]).attr("lengthAdjust", "spacing")
            .text(cfg.lab[i]);
    });
}

window.onload = init;
</script>
</body>
</html>
